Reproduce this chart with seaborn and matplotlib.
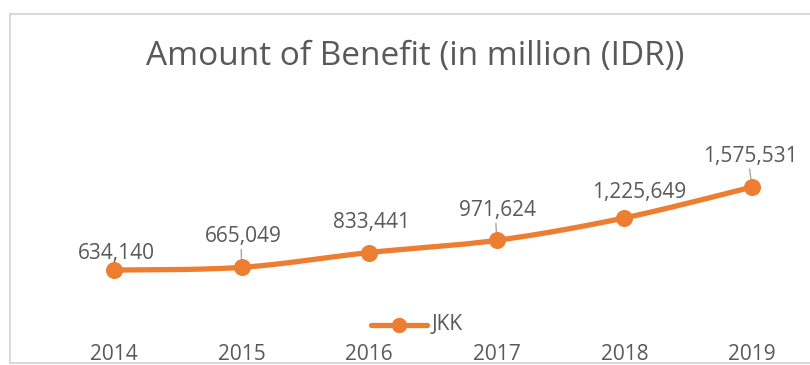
import numpy as np
import pandas as pd
import matplotlib
matplotlib.use("Agg")
import matplotlib.pyplot as plt
import seaborn as sns

# Benefit paid out each year (million IDR)
years = ["2014", "2015", "2016", "2017", "2018", "2019"]
jkk = [634140, 665049, 833441, 971624, 1225649, 1575531]
series_name = "JKK"
title = "Amount of Benefit (in million (IDR))"

ORANGE = "#ED7D31"
TEXT = "#595959"
GRID = "#D9D9D9"
FONT = "Open Sans"

sns.set_theme(style="white")
plt.rcParams["font.family"] = [FONT, "DejaVu Sans"]

W, H, DPI = 810, 365, 100
fig = plt.figure(figsize=(W / DPI, H / DPI), dpi=DPI)
ax = fig.add_axes([0, 0, 1, 1])

# data -> pixel mapping: category spacing and value scale
px_per_cat = 127.6
x0_px = 114.0
val_per_px = 11342.0
zero_row = 326.0

x = np.arange(len(years), dtype=float)
y = np.array(jkk, dtype=float)


def smooth(xs, ys, n=40, t=0.5):
    """Cardinal (Catmull-Rom style) spline through the points."""
    px = np.concatenate([[xs[0]], xs, [xs[-1]]])
    py = np.concatenate([[ys[0]], ys, [ys[-1]]])
    ox, oy = [], []
    for i in range(1, len(px) - 2):
        p0x, p1x, p2x, p3x = px[i - 1], px[i], px[i + 1], px[i + 2]
        p0y, p1y, p2y, p3y = py[i - 1], py[i], py[i + 1], py[i + 2]
        m1x, m2x = t * (p2x - p0x), t * (p3x - p1x)
        m1y, m2y = t * (p2y - p0y), t * (p3y - p1y)
        s = np.linspace(0, 1, n)
        h00 = 2 * s**3 - 3 * s**2 + 1
        h10 = s**3 - 2 * s**2 + s
        h01 = -2 * s**3 + 3 * s**2
        h11 = s**3 - s**2
        ox.append(h00 * p1x + h10 * m1x + h01 * p2x + h11 * m2x)
        oy.append(h00 * p1y + h10 * m1y + h01 * p2y + h11 * m2y)
    return np.concatenate(ox), np.concatenate(oy)


sx, sy = smooth(x, y)
curve = pd.DataFrame({"x": sx, "y": sy})
pts = pd.DataFrame({"x": x, "y": y})

sns.lineplot(data=curve, x="x", y="y", ax=ax, color=ORANGE, linewidth=3.8,
             sort=False, solid_capstyle="round", zorder=3)
sns.scatterplot(data=pts, x="x", y="y", ax=ax, color=ORANGE, s=150,
                edgecolor=ORANGE, linewidth=0, zorder=4)
ax.set_xlim(-x0_px / px_per_cat, (W - x0_px) / px_per_cat)
ax.set_ylim(-(H - zero_row) * val_per_px, zero_row * val_per_px)
ax.set_axis_off()

LBL = 15
# data labels (offsets in pixels) and leader lines where a label sits away
label_off = [(2, 17), (2, 31), (2, 30), (1, 30), (15, 25), (-2, 31)]
leaders = [False, True, False, True, False, True]
for xi, yi, (dx, dy), lead in zip(x, y, label_off, leaders):
    ax.annotate(f"{int(yi):,}", (xi, yi), xytext=(dx * 0.72, dy * 0.72),
                textcoords="offset points", ha="center", va="center",
                fontsize=LBL, color=TEXT, zorder=5)
    if lead:
        ax.annotate("", (xi, yi), xytext=(dx * 0.72 * 0.5 - 1, (dy - 13) * 0.72),
                    textcoords="offset points",
                    arrowprops=dict(arrowstyle="-", color="#A6A6A6", lw=1.0,
                                    shrinkA=0, shrinkB=6), zorder=2)

# category labels along the bottom
for xi, lab in zip(x, years):
    fig.text((x0_px + xi * px_per_cat) / W, 1 - 354 / H, lab, ha="center",
             va="center", fontsize=LBL, color=TEXT)

# title
fig.text(415 / W, 1 - 57 / H, title, ha="center", va="center",
         fontsize=24, color=TEXT)

# legend entry
leg_y = 1 - 325 / H
fig.add_artist(plt.Line2D([371 / W, 427 / W], [leg_y, leg_y], color=ORANGE,
                          lw=3.8, solid_capstyle="round"))
fig.add_artist(plt.Line2D([399 / W], [leg_y], color=ORANGE, marker="o",
                          markersize=10, lw=0))
fig.text(432 / W, leg_y, series_name, ha="left", va="center", fontsize=LBL,
         color=TEXT)

# chart frame
fig.add_artist(plt.Line2D([10 / W, 10 / W, 1.0], [1 - 363 / H, 1 - 13.5 / H, 1 - 13.5 / H],
                          color=GRID, lw=1.5))
fig.add_artist(plt.Line2D([10 / W, 1.0], [1 - 363 / H, 1 - 363 / H],
                          color=GRID, lw=1.5, zorder=10))

fig.savefig("out.png", dpi=DPI, facecolor="white")
